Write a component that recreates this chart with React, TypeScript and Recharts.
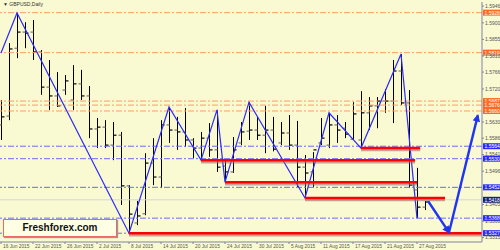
import React from "react";
import { ComposedChart, Bar, Line, XAxis, YAxis, ReferenceLine } from "recharts";

// daily bars, 16 Jun 2015 .. 28 Aug 2015
const opens = [
  1.5622, 1.5646, 1.5831, 1.5875, 1.5875, 1.5821, 1.5725, 1.5701, 1.5717, 1.569,
  1.5734, 1.5701, 1.5611, 1.5616, 1.5567, 1.5594, 1.5456, 1.5355, 1.538, 1.5518,
  1.548, 1.5622, 1.5608, 1.5603, 1.5581, 1.5559, 1.5586, 1.5554, 1.551, 1.5494,
  1.5573, 1.5605, 1.5608, 1.5594, 1.5608, 1.5573, 1.56, 1.5567, 1.5507, 1.5494,
  1.5573, 1.5567, 1.5622, 1.5613, 1.5583, 1.5581, 1.5655, 1.5674, 1.5687, 1.5687,
  1.5769, 1.5682, 1.5445, 1.5398,
];
const highs = [
  1.569, 1.5845, 1.5927, 1.5902, 1.5908, 1.5826, 1.5799, 1.5766, 1.5758, 1.5785,
  1.5772, 1.5728, 1.5641, 1.5635, 1.563, 1.5603, 1.5458, 1.5415, 1.5545, 1.5586,
  1.5635, 1.5671, 1.5644, 1.5668, 1.5586, 1.5603, 1.5627, 1.5663, 1.5526, 1.5589,
  1.563, 1.5684, 1.5644, 1.5674, 1.5644, 1.563, 1.5649, 1.5633, 1.554, 1.5548,
  1.5641, 1.5655, 1.5649, 1.563, 1.5684, 1.5714, 1.5698, 1.5698, 1.572, 1.5799,
  1.5815, 1.5717, 1.5505, 1.5415,
];
const lows = [
  1.5581, 1.5635, 1.5804, 1.5831, 1.5799, 1.5704, 1.5663, 1.5671, 1.5704, 1.5663,
  1.569, 1.5586, 1.5559, 1.5559, 1.5526, 1.5404, 1.5327, 1.5349, 1.5376, 1.5458,
  1.545, 1.5573, 1.5554, 1.5562, 1.5532, 1.5526, 1.5535, 1.5494, 1.5466, 1.5491,
  1.5567, 1.5581, 1.5581, 1.5545, 1.555, 1.5567, 1.5554, 1.5453, 1.5423, 1.5453,
  1.5567, 1.5559, 1.5573, 1.5586, 1.5581, 1.5559, 1.5608, 1.5613, 1.5655, 1.5627,
  1.5676, 1.545, 1.5368, 1.539,
];
const closes = [
  1.5644, 1.5829, 1.5875, 1.5872, 1.5821, 1.5725, 1.5701, 1.5674, 1.5742, 1.5734,
  1.5701, 1.5611, 1.5616, 1.5567, 1.5594, 1.5456, 1.5379, 1.5374, 1.5518, 1.548,
  1.5622, 1.5608, 1.5603, 1.5581, 1.5559, 1.5586, 1.5554, 1.5507, 1.5494, 1.5554,
  1.5603, 1.5608, 1.5594, 1.5608, 1.5556, 1.56, 1.5567, 1.5507, 1.5491, 1.5554,
  1.5586, 1.5622, 1.5608, 1.5597, 1.5652, 1.5655, 1.5674, 1.5687, 1.5687, 1.5769,
  1.5682, 1.5458, 1.5398, 1.5412,
];

const xTickBars = [0, 4, 8, 12, 16, 20, 24, 28, 32, 36, 40, 44, 48, 52];
const xTickLabels = [
  "16 Jun 2015", "22 Jun 2015", "26 Jun 2015", "2 Jul 2015", "8 Jul 2015",
  "14 Jul 2015", "20 Jul 2015", "24 Jul 2015", "30 Jul 2015", "5 Aug 2015",
  "11 Aug 2015", "17 Aug 2015", "21 Aug 2015", "27 Aug 2015",
];
const yTicks = [
  1.5946, 1.59, 1.5855, 1.581, 1.5766, 1.572, 1.563, 1.5586, 1.5541,
  1.5496, 1.5405, 1.536, 1.5315,
];

const zigzagBars = [0, 2, 16, 21, 25, 27, 28, 31, 38, 41, 45, 50, 52];
const zigzagPrices = [
  1.5818, 1.5927, 1.5327, 1.5671, 1.5526, 1.5663, 1.5466, 1.5684, 1.5423,
  1.5655, 1.5559, 1.5815, 1.5368,
];

const forecastBars = [53.4, 56, 59.6];
const forecastPrices = [1.5414, 1.5329, 1.5648];

const supportStart = [16, 25, 28, 38, 45];
const supportEnd = [60.1, 51.75, 52, 55.5, 52.4];
const supportPrices = [1.5327, 1.5526, 1.5466, 1.5423, 1.5559];

const orangeLevels = [1.5928, 1.5819, 1.5687, 1.5676, 1.566];
const blueLevels = [1.5564, 1.553, 1.5452, 1.5368, 1.5327];
const lastPrice = 1.5418;

const bars = opens.map((o, i) => ({
  i,
  range: [lows[i], highs[i]],
  open: o,
  high: highs[i],
  low: lows[i],
  close: closes[i],
}));
const zigzag = zigzagBars.map((b, k) => ({ i: b, p: zigzagPrices[k] }));
const arrow1 = [0, 1].map((k) => ({ i: forecastBars[k], p: forecastPrices[k] }));
const arrow2 = [1, 2].map((k) => ({ i: forecastBars[k], p: forecastPrices[k] }));

const FONT = "'Liberation Sans', Arial, sans-serif";

const OhlcShape = (props: any) => {
  const { x, y, width, height, payload } = props;
  if (x == null || !payload) return null;
  const top = Math.min(y, y + height);
  const bottom = Math.max(y, y + height);
  const cx = Math.round(x + width / 2) + 0.5;
  const span = payload.high - payload.low || 1;
  const py = (v: number) => top + ((payload.high - v) / span) * (bottom - top);
  return (
    <g>
      <line x1={cx} x2={cx} y1={top} y2={bottom} stroke="#000" strokeWidth={1} />
      <line x1={cx - 3} x2={cx} y1={py(payload.open)} y2={py(payload.open)} stroke="#777" strokeWidth={1.2} />
      <line x1={cx} x2={cx + 3} y1={py(payload.close)} y2={py(payload.close)} stroke="#000" strokeWidth={1.2} />
    </g>
  );
};

const RedSegment = (p: any) => (
  <g>
    <line x1={p.x1} y1={p.y1 + 2} x2={p.x2} y2={p.y2 + 2} stroke="#a06c6c" strokeOpacity={0.6} strokeWidth={2.5} />
    <line x1={p.x1} y1={p.y1} x2={p.x2} y2={p.y2} stroke="#ff0000" strokeWidth={2.5} />
  </g>
);

const PriceBox = (props: any) => {
  const { viewBox, text, fill } = props;
  if (!viewBox) return null;
  const x = viewBox.x + viewBox.width;
  const y = viewBox.y;
  return (
    <g>
      <rect x={x + 1} y={y - 3} width={17} height={6} fill={fill} />
      <text x={x + 2.5} y={y + 2} fontSize={5} fill="#fff" fontFamily={FONT}>
        {text}
      </text>
    </g>
  );
};

const PriceTick = (props: any) => (
  <text x={props.x} y={props.y + 1.8} fontSize={5} fill="#555" fontFamily={FONT}>
    {Number(props.payload.value).toFixed(4)}
  </text>
);

const DateTick = (props: any) => (
  <text x={props.x + 2} y={props.y + 3.5} fontSize={4.8} fill="#555" fontFamily={FONT}>
    {xTickLabels[xTickBars.indexOf(props.payload.value)]}
  </text>
);

export default function App() {
  return (
    <div style={{ position: "absolute", left: 0, top: 0, width: 500, height: 250, background: "#FAFAD2", overflow: "hidden" }}>
      <svg width={0} height={0} style={{ position: "absolute" }}>
        <defs>
          <marker id="arrowHead" viewBox="0 0 10 10" refX="8" refY="5" markerWidth="3.6" markerHeight="3.2" orient="auto">
            <path d="M0,0 L10,5 L0,10 z" fill="#1f35f0" />
          </marker>
        </defs>
      </svg>
      <ComposedChart width={500} height={250} data={bars} margin={{ top: 2, right: 0, bottom: 0, left: 0 }}>
        <XAxis
          dataKey="i"
          type="number"
          domain={[-0.125, 60.125]}
          allowDataOverflow
          ticks={xTickBars}
          interval={0}
          height={8}
          stroke="#8080a8"
          tickSize={2}
          tickMargin={0}
          tick={<DateTick />}
        />
        <XAxis xAxisId="top" orientation="top" height={0} tick={false} tickLine={false} stroke="#999" />
        <YAxis
          orientation="right"
          type="number"
          domain={[1.5303, 1.5957]}
          allowDataOverflow
          ticks={yTicks}
          interval={0}
          width={18}
          stroke="#8080a8"
          tickSize={2}
          tickMargin={1}
          tick={<PriceTick />}
        />
        {orangeLevels.map((v) => (
          <ReferenceLine
            key={"o" + v}
            y={v}
            stroke="#ff9c66"
            strokeWidth={1}
            strokeDasharray="6 2 2 2"
            label={<PriceBox text={v.toFixed(4)} fill="#ff6a22" />}
          />
        ))}
        {blueLevels.map((v) => (
          <ReferenceLine
            key={"b" + v}
            y={v}
            stroke="#6a6aff"
            strokeWidth={1}
            strokeDasharray="6 2 2 2"
            label={<PriceBox text={v.toFixed(4)} fill="#2a2aff" />}
          />
        ))}
        <ReferenceLine y={lastPrice} stroke="#d4d4d4" strokeWidth={1} label={<PriceBox text={lastPrice.toFixed(4)} fill="#16237a" />} />
        <Bar dataKey="range" barSize={2} shape={<OhlcShape />} isAnimationActive={false} />
        <Line data={zigzag} dataKey="p" stroke="#2b2bff" strokeWidth={1.2} dot={false} isAnimationActive={false} />
        {supportPrices.map((p, k) => (
          <ReferenceLine
            key={"s" + k}
            segment={[
              { x: supportStart[k], y: p },
              { x: supportEnd[k], y: p },
            ]}
            ifOverflow="visible"
            shape={RedSegment}
          />
        ))}
        <Line data={arrow1} dataKey="p" stroke="#1f35f0" strokeWidth={2.4} dot={false} markerEnd="url(#arrowHead)" isAnimationActive={false} />
        <Line data={arrow2} dataKey="p" stroke="#1f35f0" strokeWidth={2.4} dot={false} markerEnd="url(#arrowHead)" isAnimationActive={false} />
      </ComposedChart>
      <div style={{ position: "absolute", left: 3, top: 1, fontFamily: FONT, fontSize: 5, color: "#333" }}>▼ GBPUSD,Daily</div>
      <div
        style={{
          position: "absolute",
          left: 3,
          top: 219,
          width: 112,
          height: 16,
          border: "1.5px solid #e86a6a",
          background: "#ffffe6",
          boxShadow: "1px 1px 1px #9a9a9a",
          fontFamily: FONT,
          fontWeight: "bold",
          fontSize: 10,
          lineHeight: "16px",
          textAlign: "center",
          color: "#111",
        }}
      >
        Freshforex.com
      </div>
    </div>
  );
}
